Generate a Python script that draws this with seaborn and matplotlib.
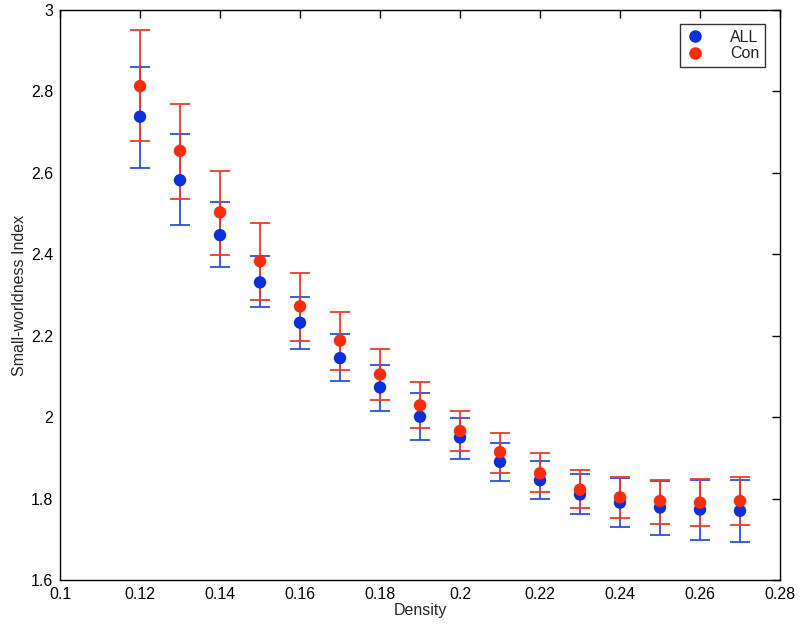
import numpy as np
import pandas as pd
import matplotlib
matplotlib.use("Agg")
import matplotlib.pyplot as plt
import seaborn as sns

# values
density = [0.12, 0.13, 0.14, 0.15, 0.16, 0.17, 0.18, 0.19, 0.20, 0.21, 0.22, 0.23, 0.24, 0.25, 0.26, 0.27]

all_mean = [2.738, 2.582, 2.447, 2.331, 2.232, 2.145, 2.073, 2.001, 1.950, 1.890, 1.845, 1.810, 1.790, 1.778, 1.773, 1.770]
all_low = [2.613, 2.472, 2.369, 2.271, 2.168, 2.088, 2.015, 1.945, 1.897, 1.843, 1.800, 1.762, 1.730, 1.711, 1.699, 1.694]
all_high = [2.860, 2.695, 2.528, 2.396, 2.295, 2.204, 2.128, 2.060, 1.999, 1.936, 1.892, 1.860, 1.850, 1.842, 1.845, 1.845]

con_mean = [2.813, 2.654, 2.503, 2.383, 2.272, 2.188, 2.105, 2.029, 1.966, 1.914, 1.862, 1.822, 1.803, 1.794, 1.790, 1.794]
con_low = [2.679, 2.536, 2.398, 2.287, 2.188, 2.117, 2.042, 1.974, 1.916, 1.863, 1.815, 1.777, 1.752, 1.737, 1.733, 1.736]
con_high = [2.951, 2.769, 2.604, 2.478, 2.353, 2.259, 2.168, 2.086, 2.015, 1.962, 1.911, 1.870, 1.853, 1.845, 1.847, 1.853]

groups = ["ALL", "Con"]
colors = {"ALL": "#0a2fe0", "Con": "#ff2a0a"}
bar_colors = {"ALL": "#2a4fe0", "Con": "#ee3a2a"}

df = pd.DataFrame({
    "Density": density * 2,
    "SWI": all_mean + con_mean,
    "low": all_low + con_low,
    "high": all_high + con_high,
    "group": ["ALL"] * len(density) + ["Con"] * len(density),
})

sns.set_style("white")
plt.rcParams["font.family"] = ["Liberation Sans", "DejaVu Sans"]

fig = plt.figure(figsize=(8, 6.27), dpi=100)
ax = fig.add_axes([0.075, 0.075, 0.9, 0.909])

# error bars first, Con above ALL
for z, g in enumerate(groups):
    d = df[df["group"] == g]
    ax.errorbar(d["Density"], d["SWI"],
                yerr=[d["SWI"] - d["low"], d["high"] - d["SWI"]],
                fmt="none", ecolor=bar_colors[g], elinewidth=1.3,
                capsize=7, capthick=1.3, zorder=2 + 2 * z)

sns.scatterplot(data=df, x="Density", y="SWI", hue="group", palette=colors,
                s=80, edgecolor="none", ax=ax, zorder=5, legend=False)

ax.set_xlim(0.1, 0.28)
ax.set_ylim(1.6, 3.0)
ax.set_xticks(np.arange(0.1, 0.2801, 0.02))
ax.set_xticklabels(["0.1", "0.12", "0.14", "0.16", "0.18", "0.2", "0.22", "0.24", "0.26", "0.28"])
ax.set_yticks(np.arange(1.6, 3.001, 0.2))
ax.set_yticklabels(["1.6", "1.8", "2", "2.2", "2.4", "2.6", "2.8", "3"])
ax.tick_params(direction="in", length=6, width=1, top=True, right=True,
               labelsize=11.5, colors="black", pad=5)
for s in ax.spines.values():
    s.set_color("black")
    s.set_linewidth(1)

ax.set_xlabel("Density", fontsize=11.5, labelpad=1)
ax.set_ylabel("Small-worldness Index", fontsize=11.5, labelpad=3)

handles = [plt.Line2D([], [], marker="o", ls="none", color=colors[g], markersize=8) for g in groups]
leg = ax.legend(handles, groups, loc="upper right", bbox_to_anchor=(0.979, 0.975),
                borderaxespad=0, fontsize=11.5, frameon=True, fancybox=False,
                borderpad=0.35, handletextpad=1.6, labelspacing=0.1,
                handlelength=1.2, markerfirst=True)
leg.get_frame().set_edgecolor("black")
leg.get_frame().set_linewidth(1)
for t in leg.get_texts():
    t.set_horizontalalignment("right")

fig.savefig("out.png", dpi=100)
